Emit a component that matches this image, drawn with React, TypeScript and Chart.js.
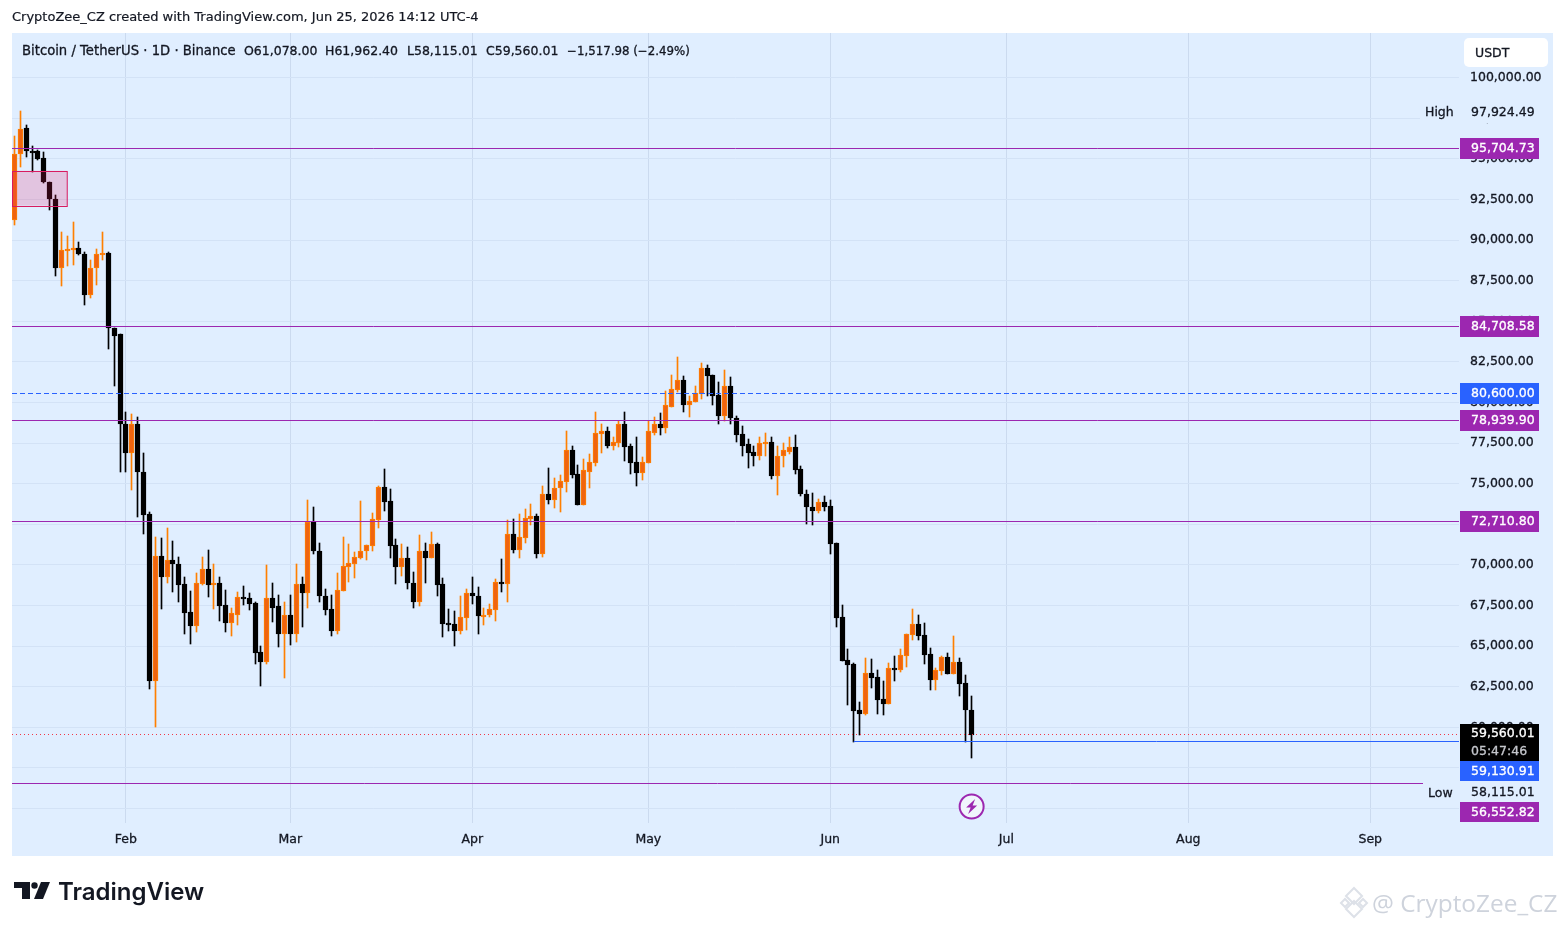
import React, { useEffect, useRef } from "react";
import { Chart, registerables } from "chart.js";

Chart.register(...registerables);

// Daily candles, Jan 13 – Jun 25 (position in the arrays = days since Jan 13)
const opens = [
  91240,95300,96880,95510,95510,95080,93590,92550,88310,89350,
  89480,89540,89170,86600,88280,89170,89230,84620,84250,78710,
  76880,78710,75750,73110,62830,70580,69230,70280,70090,68800,
  67080,66220,68800,69780,68800,68860,67510,66400,66950,68000,
  67940,67630,64620,64000,67940,67450,65780,66950,65720,68800,
  68250,72620,70890,68120,67260,65910,68370,69850,70090,70460,
  70830,71140,72740,74830,73910,71200,69850,70460,68920,67750,
  70890,70460,71320,68800,66400,66340,65910,66710,68250,68120,
  66830,66890,67200,68980,68800,71880,70950,71690,72860,72990,
  70650,74400,74030,74710,75080,77050,75630,73720,75750,76250,
  78090,78220,77350,77540,78650,77350,76310,75690,76250,78150,
  78650,78460,79750,80800,81420,79880,80060,80550,82150,81720,
  80490,79200,81050,79080,78090,77420,76980,76740,77480,77600,
  75450,76680,76980,77290,75880,74400,73600,73350,73850,73660,
  71380,66770,64120,63880,61050,60800,63320,63080,61720,61420,
  63630,63510,64370,65660,66340,65660,64490,62890,63450,64310,
  63260,64000,62710,61078,
];
const highs = [
  96430,97924,97110,95820,95540,95450,93590,92800,90520,90280,
  91140,89910,89290,88800,89480,90520,89290,84620,84250,79390,
  79320,79140,76920,73290,71750,71690,72250,71450,70520,69290,
  68370,69480,70520,70950,70090,69230,68430,67320,68310,68680,
  68250,67690,64990,69970,68860,68180,67750,68180,70090,69230,
  74030,73540,71380,68550,68180,69480,71750,71320,70770,73910,
  71260,73170,74890,75940,74650,71570,71320,71080,69540,71820,
  71380,72000,71380,69170,67260,67140,68120,68550,69290,68620,
  67320,67570,69110,70340,72740,72800,73110,73420,73780,73110,
  74890,76000,75380,75510,78280,77350,76180,76550,76860,79450,
  78650,78520,77850,78890,79450,77420,77850,76620,78890,79140,
  79380,80740,81720,82830,81660,80430,81050,82460,82340,81720,
  81290,82030,81600,79200,78580,77780,77350,77850,78150,77850,
  77350,77480,77850,78030,76120,74590,74460,74090,74220,74030,
  71380,67510,64820,63940,61540,64250,64180,63510,62830,63940,
  64370,64820,65780,67260,66950,66400,64880,63630,64370,64550,
  65600,64250,63200,61962.4,
];
const lows = [
  90950,94520,95100,94220,94950,93520,91880,87820,87200,88430,
  88490,89110,86030,86460,87260,88800,83320,81050,75710,75710,
  74590,72940,71880,62340,60000,67260,68860,68310,67750,65720,
  65110,65850,68740,68000,67260,66580,65850,65600,66280,67510,
  67200,63880,62520,63880,66460,64920,63020,65050,65230,66150,
  67380,70650,67750,66890,65600,65780,68370,68980,69170,70340,
  70280,70830,72250,73350,70460,68800,69350,68550,67320,67450,
  68920,70400,68120,65540,65910,64990,65780,65970,67570,65720,
  66280,66770,66580,68310,67690,70710,70460,71380,72490,70460,
  70520,73780,73480,73290,74520,75380,73720,73720,74770,76120,
  76920,77230,77110,77290,76430,75630,74890,75260,76250,78030,
  78030,78150,79750,80680,79450,79140,80060,80250,80430,79820,
  78710,78890,78650,77600,76680,76000,76120,76490,76680,75320,
  74280,76060,76860,75630,74220,72550,72490,73170,73350,70650,
  66150,64060,61350,59080,59510,60740,62400,60800,60740,61420,
  62830,63380,63690,65350,65350,63880,62280,62280,63200,63260,
  63260,61910,59080,58115.01,
];
const closes = [
  95300,96840,95470,95450,95020,93560,92510,88310,89400,89480,
  89540,89130,86600,88280,89150,89230,84570,84120,78660,76880,
  78710,75710,73050,62830,70580,69230,70280,70030,68740,67020,
  66220,68860,69780,68740,68860,67450,66400,67020,68000,67940,
  67570,64550,64000,67940,67380,65780,66950,65720,68800,68250,
  72620,70830,68060,67200,65910,68430,69910,70150,70520,70890,
  71200,72800,74830,73850,71140,69850,70460,68860,67750,70890,
  70460,71320,68740,66340,66340,65910,66770,68250,68060,66830,
  66950,67260,68980,68800,71880,70950,71750,72920,72990,70650,
  74400,74030,74770,75140,77050,75570,73720,75820,76310,78150,
  78220,77350,77600,78650,77290,76250,75690,76310,78220,78650,
  78460,79820,80860,81420,79880,80120,80620,82150,81660,80430,
  79200,81050,79020,78030,77350,76920,76740,77540,77600,75450,
  76740,77050,77290,75820,74340,73540,73350,73850,73600,71320,
  66710,64060,63820,60980,60800,63320,63020,61660,61420,63630,
  63570,64430,65720,66340,65600,64430,62890,63510,64310,63260,
  64000,62650,61078,59560.01,
];

const monthDays = [19, 47, 78, 108, 139, 169, 200, 231];
const monthLabels = ["Feb", "Mar", "Apr", "May", "Jun", "Jul", "Aug", "Sep"];
const priceTicks = [100000,97500,95000,92500,90000,87500,85000,82500,80000,77500,75000,72500,70000,67500,65000,62500,60000,57500,55000];

const purpleLevels = [95704.73, 84708.58, 78939.9, 72710.8];
const alertLevel = 80600;
const lastClose = 59560.01;
const lowLevelPrice = 59130.91;
const lowLevelStartDay = 143;
const bottomLevel = 56552.82;
const highPrice = 97924.49;
const lowPrice = 58115.01;
const zonePrices = [94270, 92130];
const zoneEndDay = 9;
const lightningDay = 163;

const legendParts = [
  ["Bitcoin / TetherUS · 1D · Binance", 22, 13.2],
  ["O61,078.00", 244, 12.5],
  ["H61,962.40", 325, 12.5],
  ["L58,115.01", 407, 12.5],
  ["C59,560.01", 486, 12.5],
  ["−1,517.98 (−2.49%)", 567, 11.8],
] as [string, number, number][];

const FONT = '"DejaVu Sans"';
const INK = "#131722";
const PANE = "#e0eeff";
const GRID = "#d3e2f6";
const VGRID = "#cbdaef";
const PURPLE = "#9c27b0";
const BLUE = "#2962ff";
const UP_EDGE = "#ff8000";
const UP_FILL = "#ef6410";
const STROKE = 0.3;

const fmt = (v: number) => v.toLocaleString("en-US", { minimumFractionDigits: 2, maximumFractionDigits: 2 });

const tvPlugin = {
  id: "tv",
  beforeDraw(chart: any) {
    const c = chart.ctx;
    c.save();
    c.fillStyle = "#ffffff";
    c.fillRect(0, 0, chart.width, chart.height);
    c.fillStyle = PANE;
    c.fillRect(12, 33, 1541, 823);
    c.restore();
  },
  beforeDatasetDraw(chart: any, args: any) {
    const isBody = args.index === 0;
    args.meta.data.forEach((el: any) => {
      el.x = Math.floor(el.x) + 0.5;
      el.y = Math.round(el.y);
      el.base = Math.round(el.base);
      if (isBody && Math.abs(el.base - el.y) < 2) el.base = el.y + 2;
    });
  },
  afterDatasetsDraw(chart: any) {
    const c = chart.ctx;
    const y = chart.scales.y;
    const x = chart.scales.x;
    const L = chart.chartArea.left;
    const R = chart.chartArea.right;
    const line = (price: number, color: string, x0: number, x1: number, dash: number[] = [], snap = Math.round) => {
      const py = snap(y.getPixelForValue(price)) + 0.5;
      c.save();
      c.strokeStyle = color;
      c.lineWidth = 1;
      c.setLineDash(dash);
      c.beginPath();
      c.moveTo(x0, py);
      c.lineTo(x1, py);
      c.stroke();
      c.restore();
    };
    const text = (s: string, px: number, py: number, color = INK, size = 12.5) => {
      c.fillStyle = color;
      c.strokeStyle = color;
      c.lineWidth = STROKE;
      c.font = `${size}px ${FONT}`;
      c.textAlign = "left";
      c.textBaseline = "middle";
      c.fillText(s, px, py);
      c.strokeText(s, px, py);
    };
    const tag = (label: string, top: number, h: number, color: string) => {
      c.fillStyle = color;
      c.fillRect(1460, top, 79, h);
      text(label, 1471, top + h / 2 + 0.5, "#ffffff");
    };

    // supply zone
    const zx0 = L + 0.5;
    const zx1 = x.getPixelForValue(zoneEndDay);
    const zy0 = y.getPixelForValue(zonePrices[0]);
    const zy1 = y.getPixelForValue(zonePrices[1]);
    c.fillStyle = "rgba(233,30,99,0.2)";
    c.fillRect(zx0, zy0, zx1 - zx0, zy1 - zy0);
    c.strokeStyle = "#d81b60";
    c.lineWidth = 1;
    c.strokeRect(zx0, Math.round(zy0) + 0.5, zx1 - zx0, Math.round(zy1 - zy0));

    // horizontal levels
    purpleLevels.forEach((p) => line(p, PURPLE, L, R));
    line(alertLevel, BLUE, L, R, [5, 3]);
    line(lastClose, "#f23645", L, R, [1, 3], Math.floor);
    line(lowLevelPrice, BLUE, x.getPixelForValue(lowLevelStartDay), R);
    line(bottomLevel, PURPLE, L, 1423);

    // price scale labels with their backing
    c.fillStyle = PANE;
    c.fillRect(1420, 103, 120, 20);
    c.fillRect(1423, 785, 117, 17);
    text("High", 1425, 112.5);
    text(fmt(highPrice), 1471, 112.5);
    text("Low", 1428, 793.5);
    text(fmt(lowPrice), 1471, 792.5);

    purpleLevels.forEach((p) => {
      const py = Math.round(y.getPixelForValue(p));
      tag(fmt(p), py - 10, 21, PURPLE);
    });
    const ay = Math.round(y.getPixelForValue(alertLevel));
    tag(fmt(alertLevel), ay - 10, 21, BLUE);
    tag(fmt(bottomLevel), 802, 20, PURPLE);
    tag(fmt(lowLevelPrice), 761, 20, BLUE);

    c.fillStyle = "#000000";
    c.fillRect(1460, 724, 79, 37);
    text(fmt(lastClose), 1471, 734, "#ffffff");
    text("05:47:46", 1471, 751.5, "#c4c6cc");

    // currency button
    c.fillStyle = "#ffffff";
    c.beginPath();
    c.roundRect(1464, 38, 84, 29, 5);
    c.fill();
    text("USDT", 1475, 53.5);

    // lightning marker
    const mx = x.getPixelForValue(lightningDay);
    c.save();
    c.translate(mx + 0.5, 806.5);
    c.fillStyle = "#f0f5fc";
    c.strokeStyle = PURPLE;
    c.lineWidth = 2;
    c.beginPath();
    c.arc(0, 0, 12, 0, Math.PI * 2);
    c.fill();
    c.stroke();
    c.fillStyle = PURPLE;
    c.beginPath();
    c.moveTo(3.5, -7.5);
    c.lineTo(-5.5, 1);
    c.lineTo(-1, 1);
    c.lineTo(-3.5, 7.5);
    c.lineTo(5.5, -1);
    c.lineTo(1, -1);
    c.closePath();
    c.fill();
    c.restore();

    // legend row
    legendParts.forEach(([s, px, size]) => text(s, px, 51.5, INK, size));
  },
};

export default function App() {
  const ref = useRef<HTMLCanvasElement>(null);
  useEffect(() => {
    document.body.style.margin = "0";
    const days = opens.map((_, i) => i);
    const isUp = days.map((i) => closes[i] >= opens[i]);
    const chart = new Chart(ref.current as HTMLCanvasElement, {
      type: "bar",
      data: {
        datasets: [
          {
            data: days.map((i) => ({ x: i, y: [Math.min(opens[i], closes[i]), Math.max(opens[i], closes[i])] })),
            backgroundColor: isUp.map((u) => (u ? UP_FILL : "#000000")),
            borderColor: isUp.map((u) => (u ? UP_EDGE : "#000000")),
            borderWidth: 1,
            borderSkipped: false,
            barThickness: 5,
            grouped: false,
            order: 1,
          } as any,
          {
            data: days.map((i) => ({ x: i, y: [lows[i], highs[i]] })),
            backgroundColor: isUp.map((u) => (u ? UP_EDGE : "#000000")),
            borderWidth: 0,
            barThickness: 1,
            grouped: false,
            order: 2,
          } as any,
        ],
      },
      options: {
        responsive: false,
        animation: false,
        events: [],
        devicePixelRatio: 1,
        layout: { padding: { left: 12, top: 33, right: 0, bottom: 72 } },
        plugins: { legend: { display: false }, tooltip: { enabled: false } },
        scales: {
          x: {
            type: "linear",
            offset: false,
            min: -0.41,
            max: 246.12,
            afterFit: (s: any) => { s.height = 33; },
            afterBuildTicks: (s: any) => { s.ticks = monthDays.map((d) => ({ value: d })); },
            grid: { color: VGRID, drawTicks: false, offset: false },
            border: { display: false },
            ticks: {
              autoSkip: false,
              maxRotation: 0,
              padding: 9,
              color: INK,
              textStrokeColor: INK,
              textStrokeWidth: STROKE,
              font: { family: FONT, size: 12.5 },
              callback: (v: any) => monthLabels[monthDays.indexOf(v)] ?? "",
            },
          },
          y: {
            type: "linear",
            position: "right",
            min: 54111.6,
            max: 102756.6,
            afterFit: (s: any) => { s.width = 105; },
            afterBuildTicks: (s: any) => { s.ticks = priceTicks.map((v) => ({ value: v })); },
            grid: { color: GRID, drawTicks: false },
            border: { display: false },
            ticks: {
              autoSkip: false,
              padding: 11,
              color: INK,
              textStrokeColor: INK,
              textStrokeWidth: STROKE,
              font: { family: FONT, size: 12.5 },
              callback: (v: any) => fmt(v),
            },
          },
        },
      },
      plugins: [tvPlugin],
    } as any);
    return () => chart.destroy();
  }, []);

  return (
    <div style={{ position: "fixed", left: 0, top: 0, width: 1564, height: 928, overflow: "hidden", background: "#fff" }}>
      <canvas ref={ref} width={1564} height={928} style={{ position: "absolute", left: 0, top: 0, width: 1564, height: 928 }} />
      <div style={{ position: "absolute", left: 12, top: 9, font: `13px ${FONT}`, color: INK, whiteSpace: "nowrap", WebkitTextStroke: "0.2px #131722" } as any}>
        CryptoZee_CZ created with TradingView.com, Jun 25, 2026 14:12 UTC-4
      </div>
      <svg style={{ position: "absolute", left: 0, top: 870 }} width={60} height={40} viewBox="0 870 60 40">
        <path d="M14 882H30V899H22V888H14Z" fill={INK} />
        <circle cx={34.5} cy={885.5} r={3.2} fill={INK} />
        <path d="M41 882H50L43 899H34Z" fill={INK} />
      </svg>
      <div style={{ position: "absolute", left: 58, top: 877, font: `600 24px Inter`, color: INK, whiteSpace: "nowrap" }}>TradingView</div>
      <svg style={{ position: "absolute", left: 1338, top: 886 }} width={32} height={34} viewBox="0 0 32 34" fill="none" stroke="#dde1e8" strokeWidth={2}>
        <path d="M16 2L24 10L16 18L8 10Z" />
        <path d="M3 17L7 13L11 17L7 21Z" />
        <path d="M21 17L25 13L29 17L25 21Z" />
        <path d="M8 23L16 31L24 23L16 15Z" />
      </svg>
      <div style={{ position: "absolute", left: 1372, top: 886, font: `24.4px "Open Sans"`, color: "#ced3dc", whiteSpace: "nowrap" }}>@ CryptoZee_CZ</div>
    </div>
  );
}
